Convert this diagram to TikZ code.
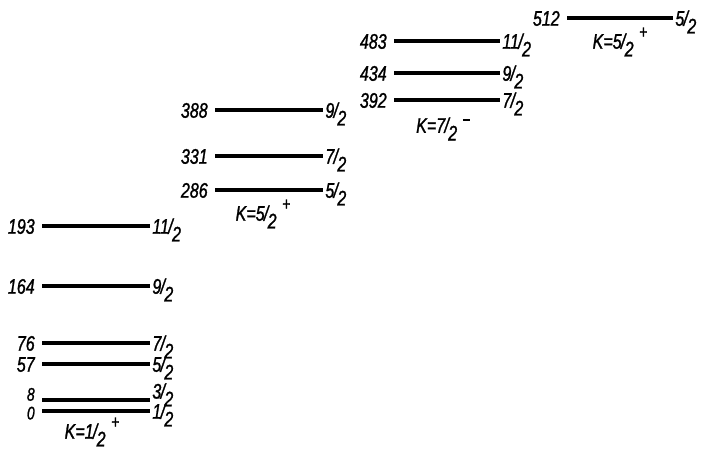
\documentclass[tikz,border=0pt]{standalone}
\usepackage{fontspec}
\newfontfamily\lvlfont{Liberation Sans}[FakeStretch=0.76, FakeBold=1.2]
\usetikzlibrary{positioning}

\newcommand{\spinfrac}[2]{#1\kern-0.5pt/\kern-0.5pt\raisebox{-5.5pt}{#2}}
\newcommand{\parity}[1]{\kern4pt\raisebox{7.5pt}{\fontsize{13}{13}\selectfont #1}}

\begin{document}
\begin{tikzpicture}[x=0.025cm, y=-0.025cm,
    level/.style={line width=2.6pt},
    elab/.style={anchor=east, inner xsep=5pt, inner ysep=0pt,
                 text height=11pt, text depth=0pt,
                 font=\lvlfont\itshape\fontsize{15}{15}\selectfont},
    slab/.style={anchor=west, inner xsep=1.5pt, inner ysep=0pt,
                 text height=11pt, text depth=0pt,
                 font=\lvlfont\itshape\fontsize{15}{15}\selectfont},
    klab/.style={inner sep=0pt, font=\lvlfont\itshape\fontsize{15}{15}\selectfont},
]
    \useasboundingbox (0,0) rectangle (702,449);

    % K = 1/2+ band
    \foreach \e/\y/\j in {57/364/5, 76/343/7, 164/286/9, 193/226/11} {
        \node[elab] (e\e) at (42,\y) {\e};
        \node[slab] (s\e) at (150,\y) {\spinfrac{\j}{2}};
        \draw[level] (e\e.east) -- (s\e.west);
    }
    \node[elab, text height=9pt] (e8) at (42,400) {\fontsize{13}{13}\selectfont\raisebox{4pt}{8}};
    \node[slab] (s8) at (150,400) {\raisebox{6.5pt}{\spinfrac{3}{2}}};
    \draw[level] (e8.east) -- (s8.west);
    \node[elab, text height=9pt] (e0) at (42,411) {\fontsize{13}{13}\selectfont\raisebox{-1.5pt}{0}};
    \node[slab] (s0) at (150,411) {\spinfrac{1}{2}};
    \draw[level] (e0.east) -- (s0.west);
    \node[klab] (k1) at (92,432) {K=\spinfrac{1}{2}\parity{+}};

    % K = 5/2+ band
    \foreach \e/\y/\j in {286/190/5, 331/156/7, 388/110/9} {
        \node[elab] (e\e) at (215,\y) {\e};
        \node[slab] (s\e) at (323,\y) {\spinfrac{\j}{2}};
        \draw[level] (e\e.east) -- (s\e.west);
    }
    \node[klab] (k2) at (263,214) {K=\spinfrac{5}{2}\parity{+}};

    % K = 7/2- band
    \foreach \e/\y/\j in {392/100/7, 434/73/9, 483/41/11} {
        \node[elab] (e\e) at (394,\y) {\e};
        \node[slab] (s\e) at (500,\y) {\spinfrac{\j}{2}};
        \draw[level] (e\e.east) -- (s\e.west);
    }
    \node[klab] (k3) at (443,129) {K=\spinfrac{7}{2}\parity{\rule[1pt]{5pt}{1pt}}};

    % K = 5/2+ band (upper)
    \node[elab] (e512) at (567,18) {512};
    \node[slab] (s512) at (673,18) {\spinfrac{5}{2}};
    \draw[level] (e512.east) -- (s512.west);
    \node[klab] (k4) at (620,42) {K=\spinfrac{5}{2}\parity{+}};
\end{tikzpicture}
\end{document}
